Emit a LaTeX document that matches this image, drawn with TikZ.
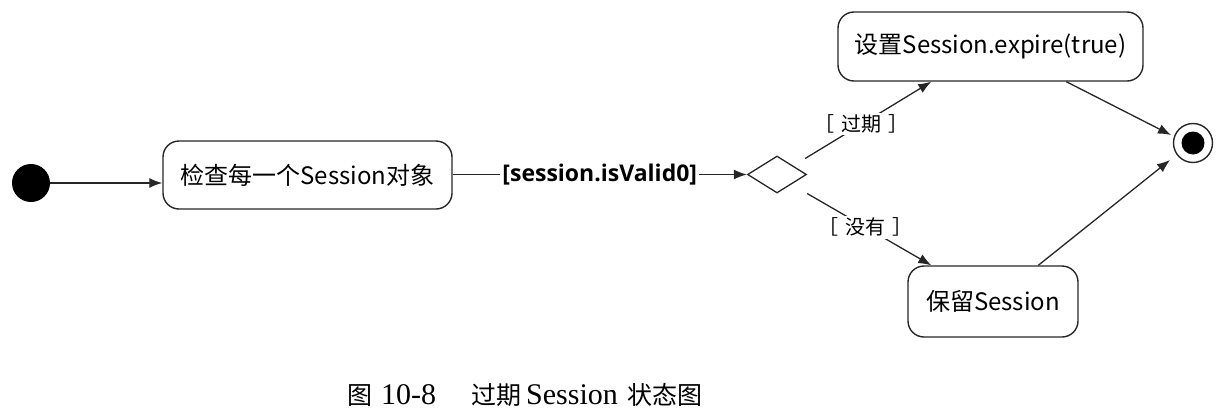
\documentclass[tikz,border=0pt]{standalone}
\usepackage{fontspec}
\setmainfont{Liberation Serif}
\newfontfamily\cjk{Noto Sans CJK SC}
\newfontfamily\lat{Open Sans}
\usetikzlibrary{arrows.meta,shapes.geometric,calc}
\begin{document}
\begin{tikzpicture}[x=1pt,y=-1pt,
  state/.style={draw=black!85,line width=1.4pt,rounded corners=16pt,inner sep=0pt,font=\cjk\fontsize{24}{27}\selectfont},
  conn/.style={draw=black!85,line width=1.3pt,-{Latex[length=13pt,width=10pt]}},
  guard/.style={fill=white,inner sep=2pt,font=\cjk\fontsize{20}{22}\selectfont}]
\useasboundingbox (0,0) rectangle (1217,418);
\node[circle,fill=black,minimum size=38pt,inner sep=0pt] (start) at (31,183) {};
\node[state,minimum width=289pt,minimum height=68pt] (check) at (307.5,175) {检查每一个Session对象};
\node[draw=black!85,line width=1.3pt,diamond,minimum width=59pt,minimum height=37pt,inner sep=0pt] (dec) at (777,174.5) {};
\node[state,minimum width=305pt,minimum height=69pt] (expire) at (990.5,46.5) {设置Session.expire(true)};
\node[state,minimum width=170pt,minimum height=71pt] (keep) at (993,301.5) {保留Session};
\node[circle,draw=black!85,line width=1.4pt,minimum size=39pt,inner sep=0pt] (final) at (1193,143) {};
\node[circle,fill=black,minimum size=23pt,inner sep=0pt] (finalin) at (final) {};
\draw[conn] (start) -- (check.west |- start);
\draw[conn] (check.east |- dec) -- node[fill=white,inner sep=2pt,font=\lat\bfseries\fontsize{23}{26}\selectfont]{[session.isValid0]} (dec.west);
\draw[conn] ($(dec.east)+(-2,-16)$) -- node[guard,pos=0.45]{［\hspace{7pt}过期\hspace{7pt}］} ($(expire.south west)+(94,0)$);
\draw[conn] ($(dec.east)+(0,19)$) -- node[guard,pos=0.47]{［\hspace{7pt}没有\hspace{7pt}］} ($(keep.north west)+(24,0)$);
\draw[conn] ($(expire.south west)+(229,0)$) -- ($(final.center)+(-22,-8)$);
\draw[conn] ($(keep.north west)+(131,0)$) -- ($(final.center)+(-23,17)$);
\node[anchor=west,inner sep=0pt,font=\fontsize{30}{32}\selectfont] (cap) at (347,395) {{\cjk\fontsize{25}{28}\selectfont 图}\hspace{9pt}10-8\hspace{35pt}{\cjk\fontsize{25}{28}\selectfont 过期}\hspace{5pt}Session\hspace{10pt}{\cjk\fontsize{25}{28}\selectfont 状态图}};
\end{tikzpicture}
\end{document}
